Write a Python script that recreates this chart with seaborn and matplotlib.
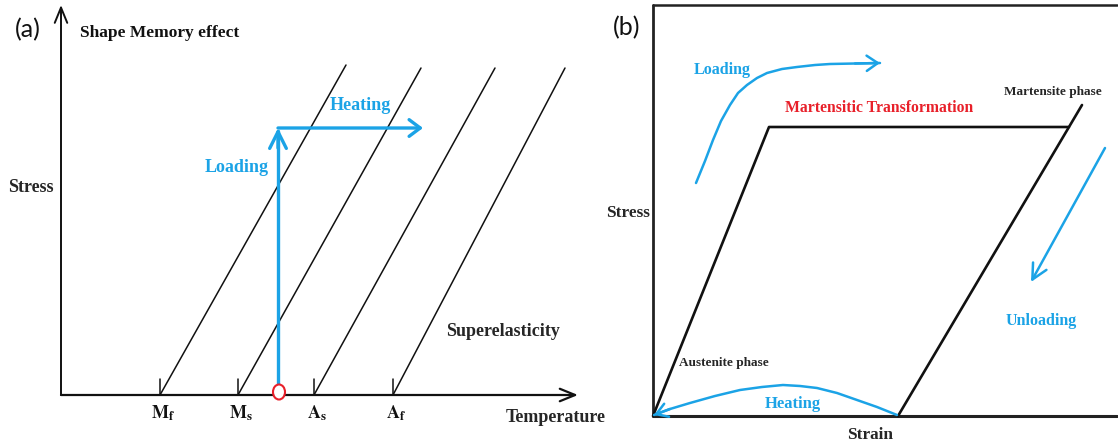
import matplotlib
matplotlib.use("Agg")
import matplotlib.pyplot as plt
from matplotlib.patches import Ellipse
import seaborn as sns

sns.set_theme(style="white")
plt.rcParams["font.family"] = ["Liberation Serif", "DejaVu Serif"]
plt.rcParams["mathtext.fontset"] = "stix"

BLUE = "#1BA3E6"
RED = "#E8202A"
BLACK = "#111111"

# ---------------- panel (a) data (figure pixel units, y downward) ----------------
a_origin = (61, 395)
a_y_top = 5
a_x_end = 578
temp_names = [r"$\mathbf{M}_{\mathbf{f}}$", r"$\mathbf{M}_{\mathbf{s}}$",
              r"$\mathbf{A}_{\mathbf{s}}$", r"$\mathbf{A}_{\mathbf{f}}$"]
temp_x = [160, 238, 314, 393]
line_top_x = [346, 421, 495, 565]
line_top_y = [65, 68, 68, 68]
tick_len = 16
start_x = 278
load_top_y = 128
heat_end_x = 423

# ---------------- panel (b) data ----------------
b_left, b_top, b_right, b_bottom = 653, 5, 1117, 416
para_x = [653, 769, 1069]
para_y = [416, 127, 127]
mart_x = [898, 1082]
mart_y = [416, 105]
loadb_x = [696, 705, 713, 721, 730, 738, 747, 757, 767, 782, 797, 815, 830, 855, 880]
loadb_y = [183, 161, 140, 121, 105, 93, 85, 78, 73, 69, 67, 65, 64, 63.5, 63]
unload_x = [1105, 1031]
unload_y = [148, 282]
heat_x = [897, 877, 857, 837, 817, 800, 783, 762, 740, 715, 690, 670, 654]
heat_y = [415, 407, 400, 393, 388, 386, 385, 387, 390, 396, 403, 409, 415]

fig = plt.figure(figsize=(11.18, 4.46), dpi=100)
ax = fig.add_axes([0, 0, 1, 1])
ax.set_xlim(0, 1118)
ax.set_ylim(446, 0)
ax.axis("off")

def arrow(x0, y0, x1, y1, color, lw, hl=0.9, hw=0.6, ms=10):
    ax.annotate("", xy=(x1, y1), xytext=(x0, y0),
                arrowprops=dict(arrowstyle=f"->,head_length={hl},head_width={hw}",
                                color=color, lw=lw, shrinkA=0, shrinkB=0,
                                mutation_scale=ms))

# axes of panel (a)
arrow(a_origin[0], a_origin[1], a_origin[0], a_y_top, BLACK, 1.4, 1.1, 0.45)
arrow(a_origin[0], a_origin[1], a_x_end, a_origin[1], BLACK, 1.6, 1.1, 0.45)

# transformation lines and ticks
for tx, lx, ly in zip(temp_x, line_top_x, line_top_y):
    sns.lineplot(x=[tx, lx], y=[a_origin[1], ly], sort=False, estimator=None,
                 color=BLACK, lw=1.1, ax=ax)
    sns.lineplot(x=[tx, tx], y=[a_origin[1], a_origin[1] - tick_len], sort=False,
                 estimator=None, color=BLACK, lw=1.1, ax=ax)

for name, tx in zip(temp_names, temp_x):
    ax.text(tx + 3, 413, name, fontsize=13, ha="center", va="center", color=BLACK)

# loading / heating path
sns.lineplot(x=[start_x, start_x], y=[a_origin[1] - 8, load_top_y + 3], sort=False,
             estimator=None, color=BLUE, lw=2.4, ax=ax)
arrow(start_x, load_top_y + 20, start_x, load_top_y, BLUE, 2.4, 1.2, 0.6)
arrow(start_x, load_top_y, heat_end_x, load_top_y, BLUE, 2.4, 0.8, 0.6)
ax.add_patch(Ellipse((start_x + 1, 392), 12, 15, facecolor="white",
                     edgecolor=RED, lw=1.5, zorder=5))

ax.text(28, 30, "(a)", fontsize=18, family=["Lato", "DejaVu Sans"],
        ha="center", va="center", color=BLACK)
ax.text(80, 33, "Shape Memory effect", fontsize=12.5, fontweight="bold",
        ha="left", va="center", color=BLACK)
ax.text(31, 188, "Stress", fontsize=13, fontweight="bold", ha="center", va="center")
ax.text(360, 106, "Heating", fontsize=13, fontweight="bold", color=BLUE,
        ha="center", va="center")
ax.text(237, 167, "Loading", fontsize=13, fontweight="bold", color=BLUE,
        ha="center", va="center")
ax.text(503, 332, "Superelasticity", fontsize=13, fontweight="bold",
        ha="center", va="center")
ax.text(556, 418, "Temperature", fontsize=13, fontweight="bold",
        ha="center", va="center")

# ---------------- panel (b) ----------------
sns.lineplot(x=[b_left, b_right], y=[b_top, b_top], sort=False, estimator=None,
             color="#222222", lw=1.8, ax=ax)
sns.lineplot(x=[b_left, b_left], y=[b_top, b_bottom], sort=False, estimator=None,
             color="#222222", lw=2.0, ax=ax)
sns.lineplot(x=[b_left, b_right], y=[b_bottom, b_bottom], sort=False, estimator=None,
             color="#222222", lw=2.2, ax=ax)

sns.lineplot(x=para_x, y=para_y, sort=False, estimator=None, color=BLACK, lw=1.9, ax=ax)
sns.lineplot(x=mart_x, y=mart_y, sort=False, estimator=None, color=BLACK, lw=1.9, ax=ax)

sns.lineplot(x=loadb_x, y=loadb_y, sort=False, estimator=None, color=BLUE, lw=1.8, ax=ax)
arrow(loadb_x[-2], loadb_y[-2], loadb_x[-1], loadb_y[-1], BLUE, 1.8, 0.8, 0.55)
arrow(unload_x[0], unload_y[0], unload_x[1], unload_y[1], BLUE, 1.8, 1.1, 0.55)
sns.lineplot(x=heat_x, y=heat_y, sort=False, estimator=None, color=BLUE, lw=1.8, ax=ax)
arrow(heat_x[-2], heat_y[-2], heat_x[-1], heat_y[-1], BLUE, 1.8, 0.8, 0.5)

ax.text(627, 28, "(b)", fontsize=18, family=["Lato", "DejaVu Sans"],
        ha="center", va="center", color=BLACK)
ax.text(722, 70, "Loading", fontsize=11.5, fontweight="bold", color=BLUE,
        ha="center", va="center")
ax.text(879, 108, "Martensitic Transformation", fontsize=11.3, fontweight="bold",
        color=RED, ha="center", va="center")
ax.text(1053, 92, "Martensite phase", fontsize=9.5, fontweight="bold",
        ha="center", va="center")
ax.text(628, 213, "Stress", fontsize=12.4, fontweight="bold", ha="center", va="center")
ax.text(1041, 321, "Unloading", fontsize=11.5, fontweight="bold", color=BLUE,
        ha="center", va="center")
ax.text(724, 363, "Austenite phase", fontsize=9.5, fontweight="bold",
        ha="center", va="center")
ax.text(793, 404, "Heating", fontsize=12, fontweight="bold", color=BLUE,
        ha="center", va="center")
ax.text(870, 435, "Strain", fontsize=12.4, fontweight="bold", ha="center", va="center")

fig.savefig("out.png", dpi=100, facecolor="white")
